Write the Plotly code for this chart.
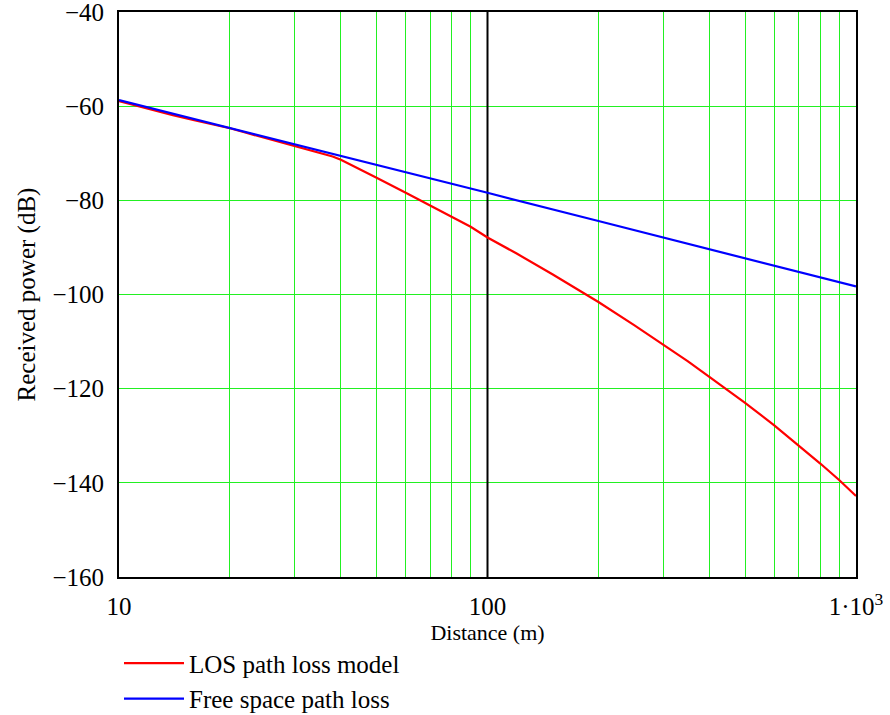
import plotly.graph_objects as go

# Distances (m) at which values were read
dist_los = [10, 12, 14, 16, 18, 20, 22, 25, 30, 35, 38, 40, 42, 45, 50, 60, 70, 80, 90,
            100, 120, 150, 200, 250, 300, 350, 400, 450, 500, 600, 700, 800, 900, 1000]
# LOS path loss model received power (dB)
power_los = [-58.9, -60.6, -61.9, -63.0, -63.9, -64.7, -65.6, -66.8, -68.5, -70.0, -70.7,
             -71.4, -72.2, -73.3, -75.2, -78.4, -81.1, -83.4, -85.6,
             -87.9, -91.3, -95.7, -101.6, -106.5, -110.6, -114.2, -117.5, -120.4,
             -123.0, -127.8, -132.1, -135.9, -139.4, -142.8]

dist_fs = [10, 20, 30, 40, 50, 100, 200, 300, 500, 1000]
# Free space path loss received power (dB)
power_fs = [-58.7, -64.6, -68.1, -70.6, -72.5, -78.4, -84.4, -87.9, -92.4, -98.3]

x_tickvals = [10, 20, 30, 40, 50, 60, 70, 80, 90, 100,
              200, 300, 400, 500, 600, 700, 800, 900, 1000]
x_ticktext = ["10", "", "", "", "", "", "", "", "", "100",
              "", "", "", "", "", "", "", "", "1\u00b710<sup>3</sup>"]
y_tickvals = [-160, -140, -120, -100, -80, -60, -40]
y_ticktext = ["\u2212160", "\u2212140", "\u2212120", "\u2212100", "\u221280", "\u221260", "\u221240"]

FONT = "Liberation Serif"
GREEN = "#22f022"

fig = go.Figure()
fig.add_trace(go.Scatter(x=[100, 100], y=[-160, -40], mode="lines",
                         line=dict(color="black", width=2), showlegend=False,
                         hoverinfo="skip"))
fig.add_trace(go.Scatter(x=dist_los, y=power_los, mode="lines",
                         line=dict(color="#ff0000", width=2.2),
                         name="LOS path loss model"))
fig.add_trace(go.Scatter(x=dist_fs, y=power_fs, mode="lines",
                         line=dict(color="#0000ff", width=2.2),
                         name="Free space path loss"))

fig.update_layout(
    width=890, height=715,
    margin=dict(l=119, r=34, t=12, b=138, autoexpand=False),
    paper_bgcolor="white", plot_bgcolor="white",
    font=dict(family=FONT, color="black", size=24),
    showlegend=True,
    legend=dict(x=0.0, xanchor="left", y=-0.112, yanchor="top",
                font=dict(family=FONT, size=25), itemwidth=60,
                bgcolor="rgba(0,0,0,0)", tracegroupgap=0),
)
fig.update_xaxes(type="log", range=[1, 3],
                 tickvals=x_tickvals, ticktext=x_ticktext,
                 showgrid=True, gridcolor=GREEN, gridwidth=1,
                 showline=True, linecolor="black", linewidth=2, mirror=True,
                 ticks="", ticklabelstandoff=6, automargin=False,
                 ticklabeloverflow="allow",
                 tickfont=dict(family=FONT, size=25),
                 title=dict(text="Distance (m)", font=dict(family=FONT, size=22), standoff=6),
                 zeroline=False)
fig.update_yaxes(range=[-160, -40],
                 tickvals=y_tickvals, ticktext=y_ticktext,
                 showgrid=True, gridcolor=GREEN, gridwidth=1,
                 showline=True, linecolor="black", linewidth=2, mirror=True,
                 ticks="", ticklabelstandoff=8, automargin=False,
                 ticklabeloverflow="allow",
                 tickfont=dict(family=FONT, size=25),
                 title=dict(text="Received power (dB)", font=dict(family=FONT, size=25), standoff=10),
                 zeroline=False)

fig.write_html("out.html")
